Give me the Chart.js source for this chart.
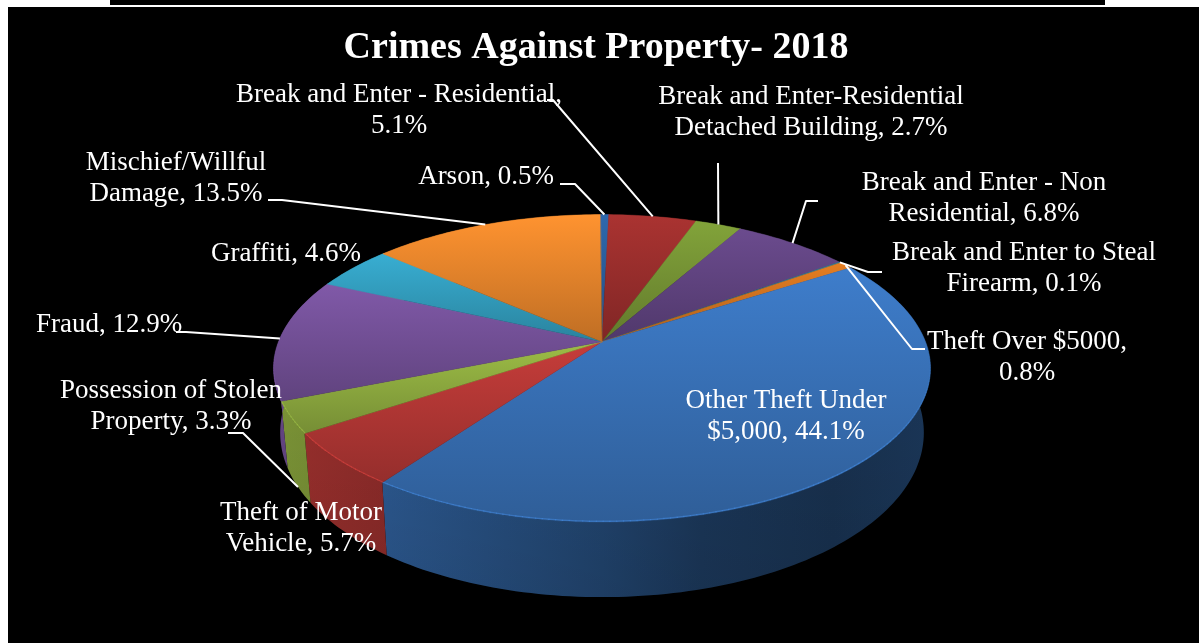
<!DOCTYPE html>
<html><head><meta charset="utf-8">
<script src="https://cdn.jsdelivr.net/npm/chart.js@4"></script>
<style>
html,body{margin:0;padding:0;background:#fff;width:1199px;height:643px;overflow:hidden}
#bg{position:absolute;left:8px;top:7px;right:0;bottom:0;background:#000}
#bar{position:absolute;left:110px;width:995px;top:0;height:5px;background:#000}
canvas{position:absolute;left:0;top:0}
</style></head><body>
<div id="bar"></div><div id="bg"></div>
<canvas id="c" width="1199" height="643"></canvas>
<script>
const chartTitle = 'Crimes Against Property- 2018';
const categories = ['Arson','Break and Enter - Residential','Break and Enter-Residential Detached Building','Break and Enter - Non Residential','Break and Enter to Steal Firearm','Theft Over $5000','Other Theft Under $5,000','Theft of Motor Vehicle','Possession of Stolen Property','Fraud','Graffiti','Mischief/Willful Damage'];
const values = [0.5,5.1,2.7,6.8,0.1,0.8,44.1,5.7,3.3,12.9,4.6,13.5];
const colors = ['#2e68ad','#aa3331','#82a33a','#6b4b8e','#2a8098','#e67e22','#3e7dcb','#c63d3a','#9dbd46','#8059a8','#38aed2','#ff9330'];
const labelLines = [
 ['Arson, 0.5%'],['Break and Enter - Residential,','5.1%'],['Break and Enter-Residential','Detached Building, 2.7%'],
 ['Break and Enter - Non','Residential, 6.8%'],['Break and Enter to Steal','Firearm, 0.1%'],['Theft Over $5000,','0.8%'],
 ['Other Theft Under','$5,000, 44.1%'],['Theft of Motor','Vehicle, 5.7%'],['Possession of Stolen','Property, 3.3%'],
 ['Fraud, 12.9%'],['Graffiti, 4.6%'],['Mischief/Willful','Damage, 13.5%']];
// label layout: centre x and middle y of first line
const labelPlace = [[486,177],[399,95],[811,97],[984,183],[1024,253],[1027,342],[786,401],[301,513],[171,391],[109,325],[286,254],[176,163]];
// leader elbows; the last point is the slice rim (computed) unless an end is given
const leaders = {0:[[560,184],[575,184]],1:[[547,100],[553,100]],2:[[718,163]],3:[[818,201],[806,201]],4:[[882,272],[868,272]],5:[[925,349],[912,349]],
 8:[[228,433],[243,433],[298,487]],9:[[176,332],[186,332]],11:[[268,200],[282,200]]};

// 3D projection parameters
const K=0.1726, XS=2.168, SHIFT_X=6, BOTTOM_SCALE=0.98;
function rgb(h){return [1,3,5].map(i=>parseInt(h.substr(i,2),16));}
function shade(h,f){return 'rgb('+rgb(h).map(c=>Math.round(Math.min(255,c*f))).join(',')+')';}
function proj(el,a){
  const u=Math.cos(a),v=Math.sin(a),d=1-K*v,R=el.outerRadius;
  return {x:el.x+SHIFT_X+R*XS*u/d,y:el.y+R*v/d,u,v};
}
function lower(el,p){return {x:el.x+SHIFT_X+(p.x-el.x-SHIFT_X)*BOTTOM_SCALE,y:p.y+62+13*p.v};}
function angles(el,step){
  const n=Math.max(2,Math.ceil((el.endAngle-el.startAngle)/step)),r=[];
  for(let i=0;i<=n;i++)r.push(el.startAngle+(el.endAngle-el.startAngle)*i/n);
  return r;
}
const pie3d={
  id:'pie3d',
  beforeDatasetDraw(chart,args){
    const ctx=chart.ctx,arcs=chart.getDatasetMeta(0).data,cols=chart.data.datasets[0].backgroundColor;
    ctx.save();
    // outer wall
    arcs.forEach((el,i)=>{
      const pts=angles(el,Math.PI/150).map(a=>proj(el,a));
      const low=pts.map(p=>lower(el,p));
      const x0=el.x+SHIFT_X-el.outerRadius*XS*1.02,x1=el.x+SHIFT_X+el.outerRadius*XS*1.02;
      const g=ctx.createLinearGradient(x0,0,x1,0);
      [0,0.15,0.5,0.65,0.85,1].forEach((t,n)=>g.addColorStop(t,shade(cols[i],[0.8,0.72,0.54,0.44,0.39,0.44][n])));
      ctx.beginPath();ctx.moveTo(pts[0].x,pts[0].y);pts.forEach(p=>ctx.lineTo(p.x,p.y));
      low.reverse().forEach(p=>ctx.lineTo(p.x,p.y));ctx.closePath();
      ctx.fillStyle=g;ctx.fill();
      const sh=ctx.createLinearGradient(0,el.y,0,el.y+250);
      sh.addColorStop(0,'rgba(0,0,0,0)');sh.addColorStop(1,'rgba(0,0,0,0.1)');
      ctx.fillStyle=sh;ctx.fill();
    });
    // top face
    arcs.forEach((el,i)=>{
      const pts=angles(el,Math.PI/180).map(a=>proj(el,a));
      const cx=el.x+SHIFT_X,cy=el.y;
      const ys=pts.map(p=>p.y).concat(cy),top=Math.min(...ys),bot=Math.max(...ys);
      const g=ctx.createLinearGradient(0,top,0,bot);
      g.addColorStop(0,cols[i]);g.addColorStop(1,shade(cols[i],0.75));
      ctx.fillStyle=g;ctx.strokeStyle=g;ctx.lineWidth=0.4;
      ctx.beginPath();ctx.moveTo(cx,cy);pts.forEach(p=>ctx.lineTo(p.x,p.y));ctx.closePath();ctx.fill();ctx.stroke();
      // bevel highlight on the front rim
      ctx.lineWidth=1.4;ctx.lineCap='round';
      for(let j=0;j<pts.length-1;j++){
        const a=Math.max(0,Math.min(0.16,(pts[j].v+0.1)*0.2));
        if(a<=0)continue;
        ctx.strokeStyle=shade(cols[i],1.12).replace('rgb','rgba').replace(')',','+(a*3)+')');
        ctx.beginPath();ctx.moveTo(pts[j].x,pts[j].y-0.8);ctx.lineTo(pts[j+1].x,pts[j+1].y-0.8);ctx.stroke();
      }
    });
    ctx.restore();
    return false;
  },
  afterDatasetsDraw(chart){
    const ctx=chart.ctx,arcs=chart.getDatasetMeta(0).data;
    ctx.save();
    ctx.strokeStyle='#fff';ctx.lineWidth=2;ctx.lineJoin='round';
    Object.keys(leaders).forEach(k=>{
      const el=arcs[k],p=proj(el,(el.startAngle+el.endAngle)/2),pts=leaders[k];
      ctx.beginPath();pts.forEach((q,i)=>i?ctx.lineTo(q[0],q[1]):ctx.moveTo(q[0],q[1]));
      if(+k!==8)ctx.lineTo(p.x,p.y);
      ctx.stroke();
    });
    ctx.fillStyle='#fff';ctx.font='27px "Liberation Serif"';ctx.textAlign='center';ctx.textBaseline='middle';
    labelLines.forEach((ls,i)=>ls.forEach((t,j)=>ctx.fillText(t,labelPlace[i][0],labelPlace[i][1]+j*31)));
    ctx.restore();
  }
};
new Chart(document.getElementById('c'),{
  type:'pie',
  data:{labels:categories,datasets:[{data:values,backgroundColor:colors,borderWidth:0}]},
  plugins:[pie3d],
  options:{
    responsive:false,animation:false,rotation:-0.4,
    layout:{padding:{left:0,right:7,top:0,bottom:152}},
    events:[],
    plugins:{
      legend:{display:false},tooltip:{enabled:false},
      title:{display:true,text:chartTitle,color:'#fff',font:{family:'"Liberation Serif"',size:38,weight:'bold',lineHeight:1.2},padding:{top:25,bottom:122}}
    }
  }
});
</script>
</body></html>
